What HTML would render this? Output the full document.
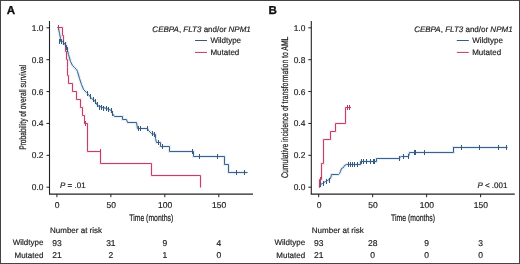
<!DOCTYPE html>
<html><head><meta charset="utf-8"><style>
html,body{margin:0;padding:0;background:#fff;}
.wrap{position:relative;width:520px;height:264px;overflow:hidden;background:#fff;}
svg{position:absolute;left:0;top:0;will-change:transform;text-rendering:geometricPrecision;filter:blur(0.42px);}
.t{font-family:"Liberation Sans", sans-serif;font-size:8px;fill:#222;stroke:#222;stroke-width:0.18px;}
.c{font-family:"Liberation Sans", sans-serif;font-size:9.6px;fill:#222;stroke:#222;stroke-width:0.22px;}
.lab{font-family:"Liberation Sans", sans-serif;font-size:11.6px;font-weight:bold;fill:#111;stroke:#111;stroke-width:0.3px;}
</style></head><body><div class="wrap">
<svg width="520" height="264" viewBox="0 0 520 264">
<rect x="0.5" y="0.5" width="519" height="263" fill="#fff" stroke="#444" stroke-width="1"/>
<line x1="49.5" y1="21" x2="49.5" y2="194.3" stroke="#222" stroke-width="1.1"/>
<line x1="49.0" y1="194.1" x2="253.0" y2="194.1" stroke="#222" stroke-width="1.2"/>
<line x1="46.5" y1="27.80" x2="49.5" y2="27.80" stroke="#222" stroke-width="1"/>
<text x="43.5" y="30.80" text-anchor="end" class="t" style="font-size:8.4px">1.0</text>
<line x1="46.5" y1="59.68" x2="49.5" y2="59.68" stroke="#222" stroke-width="1"/>
<text x="43.5" y="62.68" text-anchor="end" class="t" style="font-size:8.4px">0.8</text>
<line x1="46.5" y1="91.56" x2="49.5" y2="91.56" stroke="#222" stroke-width="1"/>
<text x="43.5" y="94.56" text-anchor="end" class="t" style="font-size:8.4px">0.6</text>
<line x1="46.5" y1="123.44" x2="49.5" y2="123.44" stroke="#222" stroke-width="1"/>
<text x="43.5" y="126.44" text-anchor="end" class="t" style="font-size:8.4px">0.4</text>
<line x1="46.5" y1="155.32" x2="49.5" y2="155.32" stroke="#222" stroke-width="1"/>
<text x="43.5" y="158.32" text-anchor="end" class="t" style="font-size:8.4px">0.2</text>
<line x1="46.5" y1="187.20" x2="49.5" y2="187.20" stroke="#222" stroke-width="1"/>
<text x="43.5" y="190.20" text-anchor="end" class="t" style="font-size:8.4px">0.0</text>
<line x1="56.90" y1="194" x2="56.90" y2="197.2" stroke="#222" stroke-width="1"/>
<text x="57.20" y="207.6" text-anchor="middle" class="t" style="font-size:8.5px">0</text>
<line x1="110.87" y1="194" x2="110.87" y2="197.2" stroke="#222" stroke-width="1"/>
<text x="111.17" y="207.6" text-anchor="middle" class="t" style="font-size:8.5px">50</text>
<line x1="164.84" y1="194" x2="164.84" y2="197.2" stroke="#222" stroke-width="1"/>
<text x="165.14" y="207.6" text-anchor="middle" class="t" style="font-size:8.5px">100</text>
<line x1="218.81" y1="194" x2="218.81" y2="197.2" stroke="#222" stroke-width="1"/>
<text x="219.11" y="207.6" text-anchor="middle" class="t" style="font-size:8.5px">150</text>
<text transform="translate(151.2,221) scale(0.715,1)" text-anchor="middle" class="c">Time (months)</text>
<text transform="translate(26.3,107.3) rotate(-90) scale(0.7,1)" text-anchor="middle" class="c">Probability of overall survival</text>
<text x="6.8" y="14.4" class="lab">A</text>
<text x="250.8" y="32.2" text-anchor="end" class="t"><tspan font-style="italic">CEBPA</tspan>, <tspan font-style="italic">FLT3</tspan> and/or <tspan font-style="italic">NPM1</tspan></text>
<line x1="195" y1="40.5" x2="207" y2="40.5" stroke="#365a80" stroke-width="1.0"/>
<text x="210.4" y="43.2" class="t">Wildtype</text>
<line x1="195" y1="52.4" x2="207" y2="52.4" stroke="#bb3a5e" stroke-width="1.0"/>
<text x="210.4" y="54.9" class="t">Mutated</text>
<text x="50" y="233.4" class="t">Number at risk</text>
<text x="43.4" y="245.3" text-anchor="end" class="t">Wildtype</text>
<text x="43.4" y="257.5" text-anchor="end" class="t">Mutated</text>
<line x1="311.3" y1="21" x2="311.3" y2="194.3" stroke="#222" stroke-width="1.1"/>
<line x1="310.8" y1="194.1" x2="514.8" y2="194.1" stroke="#222" stroke-width="1.2"/>
<line x1="308.3" y1="27.80" x2="311.3" y2="27.80" stroke="#222" stroke-width="1"/>
<text x="305.3" y="30.80" text-anchor="end" class="t" style="font-size:8.4px">1.0</text>
<line x1="308.3" y1="59.68" x2="311.3" y2="59.68" stroke="#222" stroke-width="1"/>
<text x="305.3" y="62.68" text-anchor="end" class="t" style="font-size:8.4px">0.8</text>
<line x1="308.3" y1="91.56" x2="311.3" y2="91.56" stroke="#222" stroke-width="1"/>
<text x="305.3" y="94.56" text-anchor="end" class="t" style="font-size:8.4px">0.6</text>
<line x1="308.3" y1="123.44" x2="311.3" y2="123.44" stroke="#222" stroke-width="1"/>
<text x="305.3" y="126.44" text-anchor="end" class="t" style="font-size:8.4px">0.4</text>
<line x1="308.3" y1="155.32" x2="311.3" y2="155.32" stroke="#222" stroke-width="1"/>
<text x="305.3" y="158.32" text-anchor="end" class="t" style="font-size:8.4px">0.2</text>
<line x1="308.3" y1="187.20" x2="311.3" y2="187.20" stroke="#222" stroke-width="1"/>
<text x="305.3" y="190.20" text-anchor="end" class="t" style="font-size:8.4px">0.0</text>
<line x1="318.70" y1="194" x2="318.70" y2="197.2" stroke="#222" stroke-width="1"/>
<text x="319.00" y="207.6" text-anchor="middle" class="t" style="font-size:8.5px">0</text>
<line x1="372.67" y1="194" x2="372.67" y2="197.2" stroke="#222" stroke-width="1"/>
<text x="372.97" y="207.6" text-anchor="middle" class="t" style="font-size:8.5px">50</text>
<line x1="426.64" y1="194" x2="426.64" y2="197.2" stroke="#222" stroke-width="1"/>
<text x="426.94" y="207.6" text-anchor="middle" class="t" style="font-size:8.5px">100</text>
<line x1="480.61" y1="194" x2="480.61" y2="197.2" stroke="#222" stroke-width="1"/>
<text x="480.91" y="207.6" text-anchor="middle" class="t" style="font-size:8.5px">150</text>
<text transform="translate(413.0,221) scale(0.715,1)" text-anchor="middle" class="c">Time (months)</text>
<text transform="translate(288.1,107.3) rotate(-90) scale(0.713,1)" text-anchor="middle" class="c">Cumulative incidence of transformation to AML</text>
<text x="268.6" y="14.4" class="lab">B</text>
<text x="512.6" y="32.2" text-anchor="end" class="t"><tspan font-style="italic">CEBPA</tspan>, <tspan font-style="italic">FLT3</tspan> and/or <tspan font-style="italic">NPM1</tspan></text>
<line x1="456.8" y1="40.5" x2="468.8" y2="40.5" stroke="#365a80" stroke-width="1.0"/>
<text x="472.20000000000005" y="43.2" class="t">Wildtype</text>
<line x1="456.8" y1="52.4" x2="468.8" y2="52.4" stroke="#bb3a5e" stroke-width="1.0"/>
<text x="472.20000000000005" y="54.9" class="t">Mutated</text>
<text x="311.8" y="233.4" class="t">Number at risk</text>
<text x="305.2" y="245.3" text-anchor="end" class="t">Wildtype</text>
<text x="305.2" y="257.5" text-anchor="end" class="t">Mutated</text>
<text x="56.90" y="245.7" text-anchor="middle" class="t" style="font-size:8.5px">93</text>
<text x="56.90" y="257.8" text-anchor="middle" class="t" style="font-size:8.5px">21</text>
<text x="110.87" y="245.7" text-anchor="middle" class="t" style="font-size:8.5px">31</text>
<text x="110.87" y="257.8" text-anchor="middle" class="t" style="font-size:8.5px">2</text>
<text x="164.84" y="245.7" text-anchor="middle" class="t" style="font-size:8.5px">9</text>
<text x="164.84" y="257.8" text-anchor="middle" class="t" style="font-size:8.5px">1</text>
<text x="218.81" y="245.7" text-anchor="middle" class="t" style="font-size:8.5px">4</text>
<text x="218.81" y="257.8" text-anchor="middle" class="t" style="font-size:8.5px">0</text>
<text x="318.70" y="245.7" text-anchor="middle" class="t" style="font-size:8.5px">93</text>
<text x="318.70" y="257.8" text-anchor="middle" class="t" style="font-size:8.5px">21</text>
<text x="372.67" y="245.7" text-anchor="middle" class="t" style="font-size:8.5px">28</text>
<text x="372.67" y="257.8" text-anchor="middle" class="t" style="font-size:8.5px">0</text>
<text x="426.64" y="245.7" text-anchor="middle" class="t" style="font-size:8.5px">9</text>
<text x="426.64" y="257.8" text-anchor="middle" class="t" style="font-size:8.5px">0</text>
<text x="480.61" y="245.7" text-anchor="middle" class="t" style="font-size:8.5px">3</text>
<text x="480.61" y="257.8" text-anchor="middle" class="t" style="font-size:8.5px">0</text>
<text x="60" y="187.8" class="t"><tspan font-style="italic">P</tspan> = .01</text>
<text x="477.4" y="187.6" class="t"><tspan font-style="italic">P</tspan> &lt; .001</text>
<polyline points="57.50,27.50 58.50,28.50 59.50,33.50 60.50,38.50 60.50,41.50 62.50,41.50 64.50,43.50 66.50,46.50 67.50,50.50 68.50,54.50 70.50,61.50 72.50,65.50 74.50,67.50 76.50,69.50 77.50,71.50 79.50,78.50 81.50,84.50 83.50,89.50 86.50,92.50 88.50,94.50 91.50,98.50 94.50,100.50 97.50,105.50 99.50,106.50 106.50,108.50 111.50,110.50 112.50,113.50 114.50,116.50 122.50,116.50 122.50,119.50 126.50,119.50 127.50,122.50 136.50,122.50 137.50,128.50 147.50,128.50 148.50,130.50 151.50,133.50 155.50,134.50 155.50,138.50 156.50,142.50 160.50,142.50 160.50,146.50 169.50,146.50 169.50,151.50 193.50,151.50 193.50,156.50 224.50,156.50 224.50,164.50 228.50,164.50 228.50,172.50 247.50,172.50" fill="none" stroke="rgba(60,140,210,0.15)" stroke-width="3.2"/>
<polyline points="57.50,27.50 58.50,28.50 59.50,33.50 60.50,38.50 60.50,41.50 62.50,41.50 64.50,43.50 66.50,46.50 67.50,50.50 68.50,54.50 70.50,61.50 72.50,65.50 74.50,67.50 76.50,69.50 77.50,71.50 79.50,78.50 81.50,84.50 83.50,89.50 86.50,92.50 88.50,94.50 91.50,98.50 94.50,100.50 97.50,105.50 99.50,106.50 106.50,108.50 111.50,110.50 112.50,113.50 114.50,116.50 122.50,116.50 122.50,119.50 126.50,119.50 127.50,122.50 136.50,122.50 137.50,128.50 147.50,128.50 148.50,130.50 151.50,133.50 155.50,134.50 155.50,138.50 156.50,142.50 160.50,142.50 160.50,146.50 169.50,146.50 169.50,151.50 193.50,151.50 193.50,156.50 224.50,156.50 224.50,164.50 228.50,164.50 228.50,172.50 247.50,172.50" fill="none" stroke="#365a80" stroke-width="0.95" stroke-linejoin="miter"/>
<polyline points="57.50,27.50 62.50,27.50 62.50,35.50 63.50,35.50 63.50,43.50 65.50,43.50 65.50,51.50 66.50,51.50 66.50,59.50 67.50,59.50 67.50,67.50 67.50,67.50 67.50,75.50 68.50,75.50 68.50,83.50 72.50,83.50 72.50,91.50 76.50,91.50 76.50,99.50 80.50,99.50 80.50,107.50 82.50,107.50 82.50,115.50 84.50,115.50 84.50,123.50 87.50,123.50 87.50,151.50 100.50,151.50 100.50,163.50 151.50,163.50 151.50,175.50 200.50,175.50 200.50,187.50" fill="none" stroke="rgba(240,80,130,0.12)" stroke-width="3.2"/>
<polyline points="57.50,27.50 62.50,27.50 62.50,35.50 63.50,35.50 63.50,43.50 65.50,43.50 65.50,51.50 66.50,51.50 66.50,59.50 67.50,59.50 67.50,67.50 67.50,67.50 67.50,75.50 68.50,75.50 68.50,83.50 72.50,83.50 72.50,91.50 76.50,91.50 76.50,99.50 80.50,99.50 80.50,107.50 82.50,107.50 82.50,115.50 84.50,115.50 84.50,123.50 87.50,123.50 87.50,151.50 100.50,151.50 100.50,163.50 151.50,163.50 151.50,175.50 200.50,175.50 200.50,187.50" fill="none" stroke="#bb3a5e" stroke-width="0.95"/>
<line x1="59.50" y1="39.00" x2="59.50" y2="44.00" stroke="#365a80" stroke-width="1.0"/>
<line x1="61.50" y1="39.00" x2="61.50" y2="44.00" stroke="#365a80" stroke-width="1.0"/>
<line x1="63.50" y1="40.00" x2="63.50" y2="45.00" stroke="#365a80" stroke-width="1.0"/>
<line x1="65.50" y1="42.00" x2="65.50" y2="47.00" stroke="#365a80" stroke-width="1.0"/>
<line x1="66.50" y1="45.00" x2="66.50" y2="50.00" stroke="#365a80" stroke-width="1.0"/>
<line x1="67.50" y1="47.00" x2="67.50" y2="52.00" stroke="#365a80" stroke-width="1.0"/>
<line x1="87.50" y1="91.00" x2="87.50" y2="96.00" stroke="#365a80" stroke-width="1.0"/>
<line x1="90.50" y1="94.00" x2="90.50" y2="99.00" stroke="#365a80" stroke-width="1.0"/>
<line x1="93.50" y1="97.00" x2="93.50" y2="102.00" stroke="#365a80" stroke-width="1.0"/>
<line x1="95.50" y1="99.00" x2="95.50" y2="104.00" stroke="#365a80" stroke-width="1.0"/>
<line x1="97.50" y1="102.00" x2="97.50" y2="107.00" stroke="#365a80" stroke-width="1.0"/>
<line x1="99.50" y1="105.00" x2="99.50" y2="110.00" stroke="#365a80" stroke-width="1.0"/>
<line x1="101.50" y1="105.00" x2="101.50" y2="110.00" stroke="#365a80" stroke-width="1.0"/>
<line x1="103.50" y1="106.00" x2="103.50" y2="111.00" stroke="#365a80" stroke-width="1.0"/>
<line x1="106.50" y1="106.00" x2="106.50" y2="111.00" stroke="#365a80" stroke-width="1.0"/>
<line x1="108.50" y1="107.00" x2="108.50" y2="112.00" stroke="#365a80" stroke-width="1.0"/>
<line x1="111.50" y1="108.00" x2="111.50" y2="113.00" stroke="#365a80" stroke-width="1.0"/>
<line x1="112.50" y1="111.00" x2="112.50" y2="116.00" stroke="#365a80" stroke-width="1.0"/>
<line x1="138.50" y1="126.00" x2="138.50" y2="131.00" stroke="#365a80" stroke-width="1.0"/>
<line x1="140.50" y1="126.00" x2="140.50" y2="131.00" stroke="#365a80" stroke-width="1.0"/>
<line x1="147.50" y1="126.00" x2="147.50" y2="131.00" stroke="#365a80" stroke-width="1.0"/>
<line x1="152.50" y1="131.00" x2="152.50" y2="136.00" stroke="#365a80" stroke-width="1.0"/>
<line x1="154.50" y1="132.00" x2="154.50" y2="137.00" stroke="#365a80" stroke-width="1.0"/>
<line x1="158.50" y1="140.00" x2="158.50" y2="145.00" stroke="#365a80" stroke-width="1.0"/>
<line x1="162.50" y1="144.00" x2="162.50" y2="149.00" stroke="#365a80" stroke-width="1.0"/>
<line x1="192.50" y1="149.00" x2="192.50" y2="154.00" stroke="#365a80" stroke-width="1.0"/>
<line x1="199.50" y1="154.00" x2="199.50" y2="159.00" stroke="#365a80" stroke-width="1.0"/>
<line x1="217.50" y1="154.00" x2="217.50" y2="159.00" stroke="#365a80" stroke-width="1.0"/>
<line x1="236.50" y1="170.00" x2="236.50" y2="175.00" stroke="#365a80" stroke-width="1.0"/>
<line x1="244.50" y1="170.00" x2="244.50" y2="175.00" stroke="#365a80" stroke-width="1.0"/>
<line x1="58.50" y1="25.00" x2="58.50" y2="30.00" stroke="#bb3a5e" stroke-width="1.0"/>
<line x1="85.50" y1="121.00" x2="85.50" y2="126.00" stroke="#bb3a5e" stroke-width="1.0"/>
<line x1="100.50" y1="149.00" x2="100.50" y2="154.00" stroke="#bb3a5e" stroke-width="1.0"/>
<polyline points="319.50,187.50 319.50,187.50 320.50,184.50 322.50,183.50 325.50,181.50 327.50,180.50 330.50,178.50 331.50,174.50 338.50,174.50 339.50,173.50 340.50,171.50 341.50,168.50 343.50,167.50 344.50,165.50 346.50,164.50 360.50,164.50 360.50,161.50 376.50,161.50 376.50,158.50 399.50,158.50 399.50,157.50 401.50,156.50 408.50,156.50 409.50,152.50 453.50,152.50 453.50,147.50 507.50,147.50" fill="none" stroke="rgba(60,140,210,0.15)" stroke-width="3.2"/>
<polyline points="319.50,187.50 319.50,187.50 320.50,184.50 322.50,183.50 325.50,181.50 327.50,180.50 330.50,178.50 331.50,174.50 338.50,174.50 339.50,173.50 340.50,171.50 341.50,168.50 343.50,167.50 344.50,165.50 346.50,164.50 360.50,164.50 360.50,161.50 376.50,161.50 376.50,158.50 399.50,158.50 399.50,157.50 401.50,156.50 408.50,156.50 409.50,152.50 453.50,152.50 453.50,147.50 507.50,147.50" fill="none" stroke="#365a80" stroke-width="0.95"/>
<line x1="320.50" y1="182.00" x2="320.50" y2="187.00" stroke="#365a80" stroke-width="1.0"/>
<line x1="323.50" y1="181.00" x2="323.50" y2="186.00" stroke="#365a80" stroke-width="1.0"/>
<line x1="326.50" y1="179.00" x2="326.50" y2="184.00" stroke="#365a80" stroke-width="1.0"/>
<line x1="329.50" y1="178.00" x2="329.50" y2="183.00" stroke="#365a80" stroke-width="1.0"/>
<line x1="348.50" y1="162.00" x2="348.50" y2="167.00" stroke="#365a80" stroke-width="1.0"/>
<line x1="350.50" y1="162.00" x2="350.50" y2="167.00" stroke="#365a80" stroke-width="1.0"/>
<line x1="352.50" y1="162.00" x2="352.50" y2="167.00" stroke="#365a80" stroke-width="1.0"/>
<line x1="354.50" y1="162.00" x2="354.50" y2="167.00" stroke="#365a80" stroke-width="1.0"/>
<line x1="357.50" y1="162.00" x2="357.50" y2="167.00" stroke="#365a80" stroke-width="1.0"/>
<line x1="361.50" y1="159.00" x2="361.50" y2="164.00" stroke="#365a80" stroke-width="1.0"/>
<line x1="363.50" y1="159.00" x2="363.50" y2="164.00" stroke="#365a80" stroke-width="1.0"/>
<line x1="366.50" y1="159.00" x2="366.50" y2="164.00" stroke="#365a80" stroke-width="1.0"/>
<line x1="370.50" y1="159.00" x2="370.50" y2="164.00" stroke="#365a80" stroke-width="1.0"/>
<line x1="373.50" y1="159.00" x2="373.50" y2="164.00" stroke="#365a80" stroke-width="1.0"/>
<line x1="374.50" y1="159.00" x2="374.50" y2="164.00" stroke="#365a80" stroke-width="1.0"/>
<line x1="399.50" y1="156.00" x2="399.50" y2="161.00" stroke="#365a80" stroke-width="1.0"/>
<line x1="403.50" y1="154.00" x2="403.50" y2="159.00" stroke="#365a80" stroke-width="1.0"/>
<line x1="408.50" y1="154.00" x2="408.50" y2="159.00" stroke="#365a80" stroke-width="1.0"/>
<line x1="414.50" y1="150.00" x2="414.50" y2="155.00" stroke="#365a80" stroke-width="1.0"/>
<line x1="415.50" y1="150.00" x2="415.50" y2="155.00" stroke="#365a80" stroke-width="1.0"/>
<line x1="424.50" y1="150.00" x2="424.50" y2="155.00" stroke="#365a80" stroke-width="1.0"/>
<line x1="453.50" y1="147.00" x2="453.50" y2="152.00" stroke="#365a80" stroke-width="1.0"/>
<line x1="461.50" y1="145.00" x2="461.50" y2="150.00" stroke="#365a80" stroke-width="1.0"/>
<line x1="479.50" y1="145.00" x2="479.50" y2="150.00" stroke="#365a80" stroke-width="1.0"/>
<line x1="498.50" y1="145.00" x2="498.50" y2="150.00" stroke="#365a80" stroke-width="1.0"/>
<line x1="506.50" y1="145.00" x2="506.50" y2="150.00" stroke="#365a80" stroke-width="1.0"/>
<polyline points="319.50,187.50 319.50,187.50 319.50,179.50 321.50,179.50 321.50,163.50 323.50,163.50 323.50,139.50 330.50,139.50 330.50,131.50 335.50,131.50 335.50,123.50 345.50,123.50 345.50,107.50 351.00,107.50" fill="none" stroke="rgba(240,80,130,0.12)" stroke-width="3.2"/>
<polyline points="319.50,187.50 319.50,187.50 319.50,179.50 321.50,179.50 321.50,163.50 323.50,163.50 323.50,139.50 330.50,139.50 330.50,131.50 335.50,131.50 335.50,123.50 345.50,123.50 345.50,107.50 351.00,107.50" fill="none" stroke="#bb3a5e" stroke-width="0.95"/>
<line x1="320.50" y1="177.00" x2="320.50" y2="182.00" stroke="#bb3a5e" stroke-width="1.0"/>
<line x1="347.50" y1="105.00" x2="347.50" y2="110.00" stroke="#bb3a5e" stroke-width="1.0"/>
<line x1="349.50" y1="105.00" x2="349.50" y2="110.00" stroke="#bb3a5e" stroke-width="1.0"/>
</svg></div></body></html>
